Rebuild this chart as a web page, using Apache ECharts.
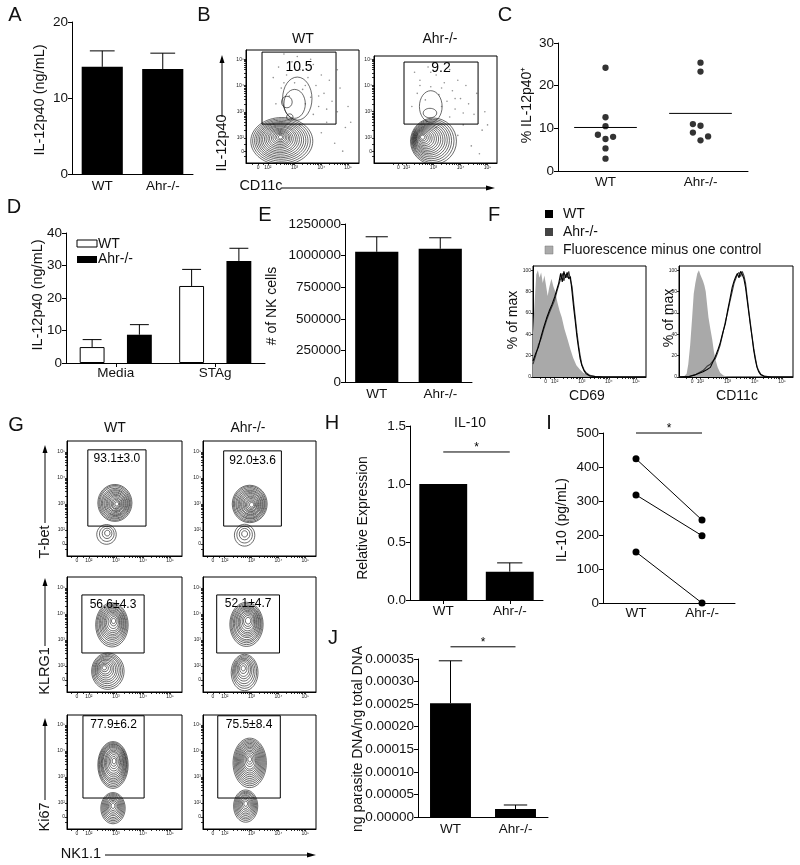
<!DOCTYPE html>
<html><head><meta charset="utf-8">
<script src="https://cdn.jsdelivr.net/npm/echarts@6/dist/echarts.min.js"></script>
<style>html,body{margin:0;padding:0;background:#fff}#c{width:800px;height:865px}</style>
</head><body><div id="c"></div>
<script>
// ---------------- DATA ----------------
const grpCats = ['WT', 'Ahr-/-'];
// A
const aMean = [14.1, 13.8];
const aErrTop = [16.2, 15.9];
// C
const cWT = [24.2, 12.6, 10.5, 8.5, 7.5, 8.0, 5.3, 2.9];
const cWTx = [1, 1, 1, 0.92, 1, 1.08, 1, 1];
const cAhr = [25.4, 23.3, 11.0, 10.6, 9.0, 7.2, 8.1];
const cAhrX = [2, 2, 1.92, 2, 1.92, 2, 2.08];
const cMeans = [10.2, 13.5];
// D
const dCats = ['Media', 'STAg'];
const dWT = [4.9, 23.7];
const dWTErrTop = [7.2, 28.8];
const dAhr = [8.7, 31.4];
const dAhrErrTop = [11.8, 35.3];
// E
const eMean = [1030000, 1054000];
const eErrTop = [1149000, 1141000];
// H
const hMean = [1.0, 0.244];
const hErrTop = [null, 0.32];
const hSig = 1.276;
// I
const iWT = [424, 318, 150];
const iAhr = [244, 198, 0];
const iSig = 500;
// J
const jMean = [0.000252, 0.0000177];
const jErrTop = [0.000346, 0.0000266];
const jSig = 0.000377;
// F histograms (x in decades above 10^2, y in % of max)
const cd69FMO = [[-0.8,42],[-0.74,70],[-0.68,96],[-0.62,100],[-0.56,93],[-0.5,98],[-0.44,88],[-0.38,95],[-0.32,86],[-0.26,76],[-0.2,84],[-0.12,92],[-0.05,85],[0.02,80],[0.1,70],[0.18,62],[0.26,56],[0.36,45],[0.48,35],[0.58,26],[0.68,18],[0.8,11],[0.93,7],[1.05,4],[1.2,2],[1.4,1],[1.7,0],[3.37,0]];
const cd69WT = [[-0.8,15],[-0.7,22],[-0.6,28],[-0.5,38],[-0.4,47],[-0.3,55],[-0.2,62],[-0.1,68],[0,75],[0.08,82],[0.15,88],[0.22,97],[0.28,89],[0.34,99],[0.4,93],[0.46,98],[0.52,92],[0.58,94],[0.64,80],[0.7,65],[0.76,52],[0.82,38],[0.88,27],[0.94,17],[1.0,11],[1.08,6],[1.16,3],[1.3,1],[1.5,0.4],[1.8,0],[3.37,0]];
const cd69Ahr = [[-0.8,12],[-0.7,20],[-0.6,30],[-0.5,36],[-0.4,45],[-0.3,53],[-0.2,60],[-0.1,66],[0,72],[0.08,80],[0.15,86],[0.22,92],[0.28,97],[0.34,90],[0.4,96],[0.46,93],[0.52,99],[0.58,91],[0.64,85],[0.7,70],[0.76,56],[0.82,42],[0.88,30],[0.94,20],[1.0,12],[1.08,7],[1.16,4],[1.3,1.5],[1.5,0.5],[1.8,0],[3.37,0]];
const cd11cFMO = [[-0.78,0],[-0.6,0.5],[-0.5,3],[-0.44,12],[-0.37,30],[-0.3,55],[-0.24,78],[-0.18,88],[-0.11,97],[-0.05,100],[0.0,96],[0.05,93],[0.1,90],[0.15,86],[0.2,80],[0.25,68],[0.3,56],[0.37,45],[0.44,35],[0.5,24],[0.56,16],[0.64,9],[0.73,4],[0.85,1.5],[1.0,0.3],[1.2,0],[3.4,0]];
const cd11cWT = [[-0.78,0],[-0.4,0.5],[-0.18,2],[0.1,5],[0.25,7],[0.37,9],[0.46,14],[0.55,19],[0.64,25],[0.73,32],[0.82,41],[0.92,50],[1.0,62],[1.08,72],[1.17,84],[1.24,90],[1.3,94],[1.36,97],[1.42,93],[1.48,99],[1.54,96],[1.6,92],[1.66,84],[1.72,72],[1.78,60],[1.84,48],[1.9,37],[1.96,25],[2.02,16],[2.08,9],[2.14,5],[2.22,2],[2.35,0.5],[2.6,0],[3.4,0]];
const cd11cAhr = [[-0.78,0],[-0.4,0.6],[-0.15,2.5],[0.1,6],[0.25,10],[0.37,12],[0.46,15],[0.55,17],[0.64,23],[0.73,30],[0.82,40],[0.92,52],[1.0,60],[1.08,70],[1.17,80],[1.24,88],[1.3,92],[1.36,96],[1.42,98],[1.48,94],[1.54,99],[1.6,95],[1.66,88],[1.72,75],[1.78,62],[1.84,50],[1.9,38],[1.96,27],[2.02,18],[2.08,10],[2.14,6],[2.22,2.5],[2.35,0.8],[2.6,0],[3.4,0]];
// Flow plots: contour levels [cx, cy, rx, ry] in decades, gates [x1,y1,x2,y2,labelY]
const b1Contours = [[0.52,-0.12,1.16,0.9],[0.51,-0.11,1.08,0.84],[0.5,-0.1,1.0,0.78],[0.49,-0.09,0.93,0.72],[0.48,-0.08,0.86,0.67],[0.47,-0.07,0.79,0.62],[0.46,-0.06,0.72,0.56],[0.45,-0.05,0.65,0.51],[0.45,-0.04,0.58,0.46],[0.44,-0.03,0.51,0.4],[0.44,-0.02,0.44,0.35],[0.44,-0.01,0.38,0.3],[0.45,0,0.32,0.25],[0.45,0.01,0.26,0.2],[0.46,0.02,0.2,0.16],[0.46,0.03,0.14,0.11],[0.47,0.03,0.08,0.07],[1.1,1.5,0.55,0.82],[1.0,1.3,0.4,0.55],[0.71,1.37,0.2,0.22],[0.82,0.8,0.12,0.12]];
const b2Contours = [[1.0,-0.12,0.85,0.88],[0.97,-0.11,0.79,0.82],[0.94,-0.1,0.73,0.76],[0.91,-0.09,0.68,0.7],[0.88,-0.08,0.63,0.64],[0.85,-0.07,0.58,0.58],[0.82,-0.06,0.53,0.53],[0.79,-0.05,0.48,0.48],[0.76,-0.04,0.43,0.43],[0.73,-0.03,0.38,0.38],[0.7,-0.02,0.33,0.33],[0.67,-0.01,0.28,0.28],[0.65,0,0.23,0.23],[0.63,0.01,0.18,0.18],[0.61,0.02,0.13,0.13],[0.6,0.03,0.08,0.08],[0.9,1.2,0.42,0.6],[0.87,0.95,0.25,0.18]];
const g11Contours = [[0.96,1.04,0.63,0.71],[0.96,1.04,0.59,0.67],[0.96,1.04,0.55,0.62],[0.97,1.03,0.51,0.57],[0.97,1.03,0.47,0.52],[0.98,1.03,0.43,0.48],[0.98,1.02,0.39,0.44],[0.99,1.02,0.35,0.4],[0.99,1.02,0.31,0.35],[1.0,1.02,0.27,0.31],[1.0,1.01,0.23,0.27],[1.01,1.01,0.19,0.22],[1.01,1.0,0.15,0.18],[1.02,1.0,0.11,0.13],[1.03,1.0,0.07,0.08],[0.65,-0.17,0.36,0.38],[0.66,-0.15,0.27,0.29],[0.67,-0.13,0.18,0.2],[0.68,-0.12,0.1,0.11]];
const g12Contours = [[0.93,1.0,0.65,0.72],[0.93,1.0,0.61,0.68],[0.93,1.0,0.57,0.63],[0.94,1.0,0.53,0.58],[0.94,0.99,0.49,0.54],[0.95,0.99,0.45,0.5],[0.95,0.99,0.41,0.45],[0.96,0.99,0.37,0.41],[0.96,0.98,0.33,0.37],[0.97,0.98,0.29,0.32],[0.97,0.98,0.25,0.28],[0.98,0.97,0.21,0.24],[0.98,0.97,0.17,0.19],[0.99,0.97,0.13,0.14],[1.0,0.97,0.08,0.09],[0.74,-0.2,0.38,0.42],[0.74,-0.18,0.29,0.32],[0.74,-0.16,0.2,0.22],[0.74,-0.15,0.11,0.12]];
const g21Contours = [[0.85,1.58,0.6,0.85],[0.85,1.59,0.56,0.79],[0.85,1.6,0.52,0.73],[0.86,1.62,0.48,0.67],[0.86,1.63,0.44,0.61],[0.87,1.64,0.4,0.56],[0.87,1.65,0.36,0.5],[0.88,1.66,0.32,0.45],[0.88,1.67,0.28,0.39],[0.89,1.68,0.24,0.33],[0.9,1.7,0.19,0.26],[0.91,1.72,0.13,0.18],[0.91,1.73,0.08,0.1],[0.7,-0.2,0.6,0.7],[0.69,-0.19,0.55,0.64],[0.68,-0.18,0.5,0.58],[0.67,-0.16,0.45,0.52],[0.65,-0.15,0.4,0.46],[0.64,-0.14,0.35,0.4],[0.62,-0.12,0.3,0.34],[0.61,-0.11,0.25,0.27],[0.6,-0.1,0.2,0.21],[0.58,-0.08,0.14,0.14],[0.57,-0.07,0.08,0.08]];
const g22Contours = [[0.81,1.6,0.62,0.85],[0.81,1.61,0.58,0.79],[0.81,1.62,0.54,0.73],[0.82,1.63,0.5,0.68],[0.82,1.64,0.46,0.63],[0.83,1.66,0.42,0.57],[0.83,1.67,0.38,0.52],[0.84,1.68,0.34,0.46],[0.84,1.69,0.3,0.41],[0.85,1.7,0.26,0.35],[0.86,1.72,0.21,0.28],[0.86,1.73,0.16,0.21],[0.87,1.74,0.1,0.13],[0.74,-0.25,0.5,0.7],[0.74,-0.23,0.45,0.63],[0.73,-0.21,0.4,0.56],[0.72,-0.19,0.35,0.49],[0.71,-0.16,0.3,0.42],[0.71,-0.14,0.25,0.35],[0.7,-0.12,0.2,0.28],[0.69,-0.1,0.14,0.19],[0.69,-0.09,0.08,0.1]];
const g31Contours = [[0.89,1.46,0.56,0.9],[0.89,1.47,0.53,0.85],[0.89,1.48,0.5,0.8],[0.9,1.5,0.47,0.75],[0.9,1.51,0.44,0.7],[0.9,1.52,0.41,0.65],[0.9,1.53,0.38,0.6],[0.91,1.54,0.34,0.54],[0.91,1.55,0.3,0.48],[0.91,1.56,0.26,0.42],[0.92,1.58,0.22,0.35],[0.92,1.59,0.17,0.27],[0.92,1.6,0.12,0.19],[0.93,1.61,0.07,0.11],[0.89,-0.2,0.45,0.6],[0.89,-0.19,0.41,0.55],[0.89,-0.18,0.37,0.5],[0.89,-0.17,0.33,0.45],[0.89,-0.16,0.29,0.4],[0.89,-0.15,0.25,0.34],[0.89,-0.14,0.21,0.29],[0.89,-0.13,0.17,0.23],[0.89,-0.12,0.12,0.17],[0.89,-0.11,0.07,0.1]];
const g32Contours = [[0.93,1.54,0.62,0.95],[0.93,1.55,0.58,0.89],[0.93,1.56,0.54,0.83],[0.93,1.57,0.5,0.77],[0.93,1.58,0.46,0.71],[0.93,1.59,0.42,0.65],[0.93,1.6,0.38,0.59],[0.93,1.61,0.34,0.53],[0.93,1.62,0.3,0.47],[0.93,1.63,0.26,0.4],[0.93,1.64,0.22,0.34],[0.93,1.66,0.17,0.26],[0.93,1.67,0.12,0.18],[0.93,1.68,0.07,0.1],[0.78,-0.12,0.45,0.62],[0.78,-0.11,0.41,0.56],[0.78,-0.1,0.37,0.51],[0.78,-0.09,0.33,0.46],[0.78,-0.08,0.29,0.4],[0.78,-0.07,0.25,0.35],[0.78,-0.06,0.21,0.29],[0.78,-0.05,0.17,0.23],[0.78,-0.04,0.12,0.17],[0.78,-0.03,0.07,0.1]];
const b1Dots = [[0.9,2.9],[1.2,2.6],[0.7,2.4],[1.5,2.3],[1.0,2.1],[1.8,2.0],[0.5,1.9],[1.3,1.85],[2.1,1.7],[0.8,1.6],[1.6,1.55],[2.4,1.4],[1.9,1.2],[2.6,1.0],[2.2,0.6],[2.9,0.4],[1.1,3.1],[0.4,2.7],[1.7,2.8],[2.0,2.4],[0.3,1.3],[2.7,1.9],[3.0,1.2],[0.6,3.2],[1.4,1.3],[2.3,2.2],[1.2,0.5],[1.7,0.9],[2.0,0.2],[2.5,-0.2],[3.1,0.6],[2.8,-0.5],[1.0,2.7],[1.4,2.0],[0.6,2.1],[1.9,1.6],[2.2,1.1],[0.2,2.3],[1.6,3.0],[2.6,2.6]];
const b2Dots = [[0.8,2.7],[1.1,2.4],[0.5,2.2],[1.4,2.1],[0.9,1.95],[1.7,1.8],[0.4,1.7],[1.2,1.65],[2.0,1.5],[0.7,1.45],[1.5,1.4],[2.3,1.3],[1.8,1.1],[2.5,0.9],[2.1,0.5],[2.8,0.3],[1.0,2.85],[0.3,2.5],[1.6,2.6],[1.9,2.2],[0.2,1.2],[2.6,1.7],[2.9,1.0],[1.3,1.2],[2.2,2.0],[1.1,0.4],[1.6,0.8],[1.9,0.1],[2.4,-0.3],[3.0,0.5],[2.7,-0.6],[0.9,2.5],[1.3,1.9],[0.5,2.0],[1.8,1.5],[2.1,0.95]];
const b1Gate = [[-0.22,3.27,2.55,0.53,2.7]]; const b1Label = ['10.5'];
const b2Gate = [[-0.09,2.89,2.65,0.53,2.66]]; const b2Label = ['9.2'];
const g11Gate = [[-0.04,3.08,2.11,0.15,2.73]]; const g11Label = ['93.1\u00B13.0'];
const g12Gate = [[-0.04,3.04,2.11,0.15,2.65]]; const g12Label = ['92.0\u00B13.6'];
const g21Gate = [[-0.26,2.73,2.04,0.5,2.35]]; const g21Label = ['56.6\u00B14.3'];
const g22Gate = [[-0.3,2.73,2.04,0.5,2.38]]; const g22Label = ['52.1\u00B14.7'];
const g31Gate = [[-0.22,3.35,2.04,0.19,3.0]]; const g31Label = ['77.9\u00B16.2'];
const g32Gate = [[-0.26,3.35,2.07,0.19,3.0]]; const g32Label = ['75.5\u00B18.4'];
const flowTickText = ['0', '10\u00B2', '10\u00B3', '10\u2074', '10\u2075'];
const pctTicks = [0, 20, 40, 60, 80, 100];

// ---------------- LAYOUT / STYLE ----------------
const FONT = '"Liberation Sans", Arial, Helvetica, sans-serif';
const grids = [
  [72,22,121,152],   //0 A
  [246,50,113,113],  //1 B1
  [374,56,123,107],  //2 B2
  [558,43,190,128],  //3 C
  [66,233,199,130],  //4 D
  [345,224,127,158], //5 E
  [533,266,113,111], //6 F1
  [679,266,114,111], //7 F2
  [67,441,115,115],[203,441,113,115], //8,9
  [67,577,115,115],[203,577,113,115], //10,11
  [67,715,115,114],[203,715,113,114], //12,13
  [410,426,133,174], //14 H
  [603,433,132,170], //15 I
  [418,659,130,158]  //16 J
];
const framed = [1,2,6,7,8,9,10,11,12,13];
const gridOpt = grids.map((g,i)=>({left:g[0],top:g[1],width:g[2],height:g[3],show:framed.includes(i),borderColor:'#000',borderWidth:1,backgroundColor:'rgba(0,0,0,0)',containLabel:false}));

const LBL = {fontSize:13.5, color:'#111', fontFamily:FONT};
function valY(g,min,max,interval,fmt){
  return {type:'value',gridIndex:g,min,max,interval,splitLine:{show:false},
    axisLine:{show:true,onZero:false,lineStyle:{color:'#000',width:1}},
    axisTick:{show:true,length:4,lineStyle:{color:'#000'}},
    axisLabel:Object.assign({margin:4,formatter:fmt},LBL)};
}
function catX(g,cats,margin,ticks){
  return {type:'category',gridIndex:g,data:cats,
    axisLine:{show:true,onZero:false,lineStyle:{color:'#000',width:1}},
    axisTick:{show:!!ticks,alignWithLabel:true,length:4,lineStyle:{color:'#000'}},
    axisLabel:Object.assign({margin:margin,interval:0},LBL)};
}
function flowAxis(g,min,max,zeroPos){
  const vals=[zeroPos,0,1,2,3];
  const ticks=[zeroPos-0.2,zeroPos,zeroPos/2];
  for(let d=0;d<3;d++) for(let k=1;k<10;k++) ticks.push(d+Math.log10(k));
  ticks.push(3);
  return {type:'value',gridIndex:g,min,max,splitLine:{show:false},
    axisLine:{show:true,onZero:false,lineStyle:{color:'#000',width:1}},
    axisTick:{show:true,length:2,customValues:ticks,lineStyle:{color:'#000',width:0.8}},
    axisLabel:{show:true,customValues:vals,fontSize:5,color:'#222',margin:2,fontFamily:FONT,
      formatter:v=>{const i=vals.findIndex(x=>Math.abs(x-v)<1e-6);return i<0?'':flowTickText[i];}}};
}
function pctAxis(g){
  return {type:'value',gridIndex:g,min:0,max:104,splitLine:{show:false},
    axisLine:{show:true,onZero:false,lineStyle:{color:'#000',width:1}},
    axisTick:{show:true,length:2,customValues:pctTicks,lineStyle:{color:'#000',width:0.8}},
    axisLabel:{show:true,customValues:pctTicks,fontSize:5,color:'#222',margin:2,fontFamily:FONT}};
}

const xAxes = [], yAxes = [];
xAxes[0]=catX(0,grpCats,5,false); yAxes[0]=valY(0,0,20,10);
xAxes[1]=flowAxis(1,-0.82,3.41,-0.37); yAxes[1]=flowAxis(1,-0.95,3.35,-0.5);
xAxes[2]=flowAxis(2,-1.2,3.35,-0.3); yAxes[2]=flowAxis(2,-0.95,3.12,-0.5);
xAxes[3]={type:'value',gridIndex:3,min:0.5,max:2.5,splitLine:{show:false},
  axisLine:{show:true,onZero:false,lineStyle:{color:'#000'}},axisTick:{show:false},
  axisLabel:Object.assign({customValues:[1,2],margin:4,formatter:v=>grpCats[Math.round(v)-1]||''},LBL)};
yAxes[3]=valY(3,0,30,10);
xAxes[4]=catX(4,dCats,3,true); yAxes[4]=valY(4,0,40,10);
xAxes[5]=catX(5,grpCats,5,false); yAxes[5]=valY(5,0,1250000,250000,v=>String(v));
xAxes[6]=flowAxis(6,-0.8,3.37,-0.33); yAxes[6]=pctAxis(6);
xAxes[7]=flowAxis(7,-0.78,3.4,-0.3); yAxes[7]=pctAxis(7);
[8,9,10,11,12,13].forEach(g=>{
  const right = (g%2===1);
  xAxes[g]=flowAxis(g,-0.81,right?3.4:3.44,-0.44);
  yAxes[g]=flowAxis(g,-1.0,g>=12?3.38:3.42,-0.54);
});
xAxes[14]=catX(14,grpCats,4,true); yAxes[14]=valY(14,0,1.5,0.5,v=>v.toFixed(1));
xAxes[15]=catX(15,grpCats,3,false); yAxes[15]=valY(15,0,500,100);
xAxes[16]=catX(16,grpCats,5,false); yAxes[16]=valY(16,0,0.00035,0.00005,v=>v.toFixed(5));

// ---------------- SERIES HELPERS ----------------
function errSeries(g,means,tops,offset,capFrac){
  const data=[];
  means.forEach((m,i)=>{ if(tops[i]!=null) data.push([i,m,tops[i]]); });
  return {type:'custom',xAxisIndex:g,yAxisIndex:g,data,clip:false,z:5,
    renderItem:(p,api)=>{
      const band=api.size([1,0])[0];
      const base=api.coord([api.value(0),api.value(1)]);
      const top=api.coord([api.value(0),api.value(2)]);
      const x=base[0]+offset*band, cw=capFrac*band/2;
      return {type:'group',children:[
        {type:'line',shape:{x1:x,y1:base[1],x2:x,y2:top[1]},style:{stroke:'#000',lineWidth:1}},
        {type:'line',shape:{x1:x-cw,y1:top[1],x2:x+cw,y2:top[1]},style:{stroke:'#000',lineWidth:1}}
      ]};
    }};
}
function barSeries(g,vals,width,fill,extra){
  return Object.assign({type:'bar',xAxisIndex:g,yAxisIndex:g,data:vals,barWidth:width,
    itemStyle:{color:fill,borderColor:'#000',borderWidth:fill==='#000'?0:1},silent:true},extra||{});
}
function sigSeries(g,level,starFs){
  return {type:'custom',xAxisIndex:g,yAxisIndex:g,data:[[0,level]],clip:false,z:6,
    renderItem:(p,api)=>{
      const a=api.coord([0,api.value(1)]), b=api.coord([1,api.value(1)]);
      return {type:'group',children:[
        {type:'line',shape:{x1:a[0],y1:a[1],x2:b[0],y2:b[1]},style:{stroke:'#000',lineWidth:1}},
        {type:'text',x:(a[0]+b[0])/2,y:a[1]-4,style:{text:'*',fontSize:starFs,fontFamily:FONT,fill:'#000',align:'center',verticalAlign:'middle',textAlign:'center',textVerticalAlign:'middle'}}
      ]};
    }};
}
function contourSeries(g,levels){
  return {type:'custom',xAxisIndex:g,yAxisIndex:g,data:levels,clip:true,z:3,
    renderItem:(p,api)=>{
      const c=api.coord([api.value(0),api.value(1)]);
      const s=api.size([api.value(2),api.value(3)]);
      return {type:'ellipse',shape:{cx:c[0],cy:c[1],rx:s[0],ry:s[1]},style:{fill:'rgba(0,0,0,0)',stroke:'#1a1a1a',lineWidth:0.65}};
    }};
}
function gateSeries(g,boxes,labels,fs){
  return {type:'custom',xAxisIndex:g,yAxisIndex:g,data:boxes,clip:false,z:4,
    renderItem:(p,api)=>{
      const a=api.coord([api.value(0),api.value(1)]), b=api.coord([api.value(2),api.value(3)]);
      const ly=api.coord([api.value(0),api.value(4)])[1];
      return {type:'group',children:[
        {type:'rect',shape:{x:Math.min(a[0],b[0]),y:Math.min(a[1],b[1]),width:Math.abs(b[0]-a[0]),height:Math.abs(b[1]-a[1])},style:{fill:'rgba(0,0,0,0)',stroke:'#000',lineWidth:1}},
        {type:'text',x:(a[0]+b[0])/2,y:ly,style:{text:labels[p.dataIndex],fontSize:fs,fontFamily:FONT,fill:'#000',align:'center',verticalAlign:'middle',textAlign:'center',textVerticalAlign:'middle'}}
      ]};
    }};
}
function dotSeries(g,pts){
  return {type:'scatter',xAxisIndex:g,yAxisIndex:g,data:pts,symbolSize:1.6,itemStyle:{color:'#777'},silent:true,z:2};
}
function histLine(g,pts,color,area){
  const s={type:'line',xAxisIndex:g,yAxisIndex:g,data:pts,showSymbol:false,symbol:'none',
    lineStyle:{color:color,width:area?0:1.1},silent:true,z:area?2:4};
  if(area){ s.areaStyle={color:color,opacity:1}; }
  return s;
}

const series = [];
// A
series.push(barSeries(0,aMean,'68%','#000'));
series.push(errSeries(0,aMean,aErrTop,0,0.41));
// B
series.push(dotSeries(1,b1Dots),contourSeries(1,b1Contours),gateSeries(1,b1Gate,b1Label,14));
series.push(dotSeries(2,b2Dots),contourSeries(2,b2Contours),gateSeries(2,b2Gate,b2Label,14));
// C
series.push({type:'scatter',xAxisIndex:3,yAxisIndex:3,data:cWT.map((v,i)=>[cWTx[i],v]),symbolSize:6.3,itemStyle:{color:'#000'},z:4});
series.push({type:'scatter',xAxisIndex:3,yAxisIndex:3,data:cAhr.map((v,i)=>[cAhrX[i],v]),symbolSize:6.3,itemStyle:{color:'#000'},z:4});
series.push({type:'custom',xAxisIndex:3,yAxisIndex:3,data:cMeans.map((m,i)=>[i+1,m]),z:5,
  renderItem:(p,api)=>{const c=api.coord([api.value(0),api.value(1)]);const hw=0.33*api.size([1,0])[0];
    return {type:'line',shape:{x1:c[0]-hw,y1:c[1],x2:c[0]+hw,y2:c[1]},style:{stroke:'#000',lineWidth:1}};}});
// D
series.push(barSeries(4,dWT,'25%','#fff',{barGap:'90%'}));
series.push(barSeries(4,dAhr,'25%','#000',{barGap:'90%'}));
series.push(errSeries(4,dWT,dWTErrTop,-0.2375,0.19));
series.push(errSeries(4,dAhr,dAhrErrTop,0.2375,0.19));
// E
series.push(barSeries(5,eMean,'68%','#000'));
series.push(errSeries(5,eMean,eErrTop,0,0.35));
// F
series.push(histLine(6,cd69FMO,'#a9a9a9',true),histLine(6,cd69Ahr,'#3a3a3a',false),histLine(6,cd69WT,'#000',false));
series.push(histLine(7,cd11cFMO,'#a9a9a9',true),histLine(7,cd11cAhr,'#3a3a3a',false),histLine(7,cd11cWT,'#000',false));
// G
[[8,g11Contours,g11Gate,g11Label],[9,g12Contours,g12Gate,g12Label],[10,g21Contours,g21Gate,g21Label],
 [11,g22Contours,g22Gate,g22Label],[12,g31Contours,g31Gate,g31Label],[13,g32Contours,g32Gate,g32Label]].forEach(r=>{
  series.push(contourSeries(r[0],r[1]),gateSeries(r[0],r[2],r[3],12));
});
// H
series.push(barSeries(14,hMean,'72%','#000'));
series.push(errSeries(14,hMean,hErrTop,0,0.38));
series.push(sigSeries(14,hSig,12));
// I
iWT.forEach((w,i)=>{
  series.push({type:'line',xAxisIndex:15,yAxisIndex:15,data:[w,iAhr[i]],symbol:'circle',symbolSize:7,
    lineStyle:{color:'#000',width:1},itemStyle:{color:'#000'},clip:false,z:4});
});
series.push(sigSeries(15,iSig,12));
// J
series.push(barSeries(16,jMean,'63%','#000'));
series.push(errSeries(16,jMean,jErrTop,0,0.36));
series.push(sigSeries(16,jSig,12));

// ---------------- GRAPHIC TEXT ----------------
function T(text,x,y,size,opt){
  opt=opt||{};
  return {type:'text',x:x,y:y,rotation:opt.rot||0,z:10,
    style:{text:text,fontSize:size,fontFamily:FONT,fill:'#111',
      align:opt.align||'center',textAlign:opt.align||'center',verticalAlign:'middle',textVerticalAlign:'middle'}};
}
const R=Math.PI/2;
function arrowUp(x,y1,y2){return [{type:'line',shape:{x1:x,y1:y1,x2:x,y2:y2+6},style:{stroke:'#000',lineWidth:1}},
  {type:'polygon',shape:{points:[[x,y2],[x-2.5,y2+8],[x+2.5,y2+8]]},style:{fill:'#000'}}];}
function arrowRight(y,x1,x2){return [{type:'line',shape:{x1:x1,y1:y,x2:x2-6,y2:y},style:{stroke:'#000',lineWidth:1}},
  {type:'polygon',shape:{points:[[x2,y],[x2-9,y-2.5],[x2-9,y+2.5]]},style:{fill:'#000'}}];}
const graphics = [
  T('A',15,15,20),T('B',204,15,20),T('C',505,15,20),T('D',14,207,20),T('E',265,215,20),T('F',494,215,20),
  T('G',16,425,20),T('H',332,423,20),T('I',549,423,20),T('J',333,638,20),
  T('IL-12p40 (ng/mL)',40,100,14.5,{rot:R}),
  T('WT',303,39,14),T('Ahr-/-',440,39,14),
  T('IL-12p40',222,143,14.5,{rot:R}),
  T('CD11c',261,186,14.5),
  T('% IL-12p40\u207A',527,105,14,{rot:R}),
  T('IL-12p40 (ng/mL)',38,295,14.5,{rot:R}),
  {type:'rect',shape:{x:77,y:240,width:20,height:7},style:{fill:'#fff',stroke:'#000',lineWidth:1}},
  {type:'rect',shape:{x:77,y:256,width:20,height:7},style:{fill:'#000'}},
  T('WT',98,244,14,{align:'left'}),T('Ahr-/-',98,259,14,{align:'left'}),
  T('# of NK cells',272,306,14,{rot:R}),
  {type:'rect',shape:{x:545,y:210,width:8,height:8},style:{fill:'#000'}},
  {type:'rect',shape:{x:545,y:228,width:8,height:8},style:{fill:'#444'}},
  {type:'rect',shape:{x:545,y:246,width:8,height:8},style:{fill:'#aaa',stroke:'#777',lineWidth:0.5}},
  T('WT',563,214,14,{align:'left'}),T('Ahr-/-',563,232,14,{align:'left'}),T('Fluorescence minus one control',563,250,14,{align:'left'}),
  T('% of max',513,320,14,{rot:R}),T('% of max',669,318,14,{rot:R}),
  T('CD69',587,396,14),T('CD11c',737,396,14),
  T('WT',115,428,14),T('Ahr-/-',248,428,14),
  T('T-bet',45,542,14.5,{rot:R}),T('KLRG1',45,671,14.5,{rot:R}),T('Ki67',45,817,14.5,{rot:R}),
  T('NK1.1',81,854,14.5),
  T('IL-10',470,423,14),
  T('Relative Expression',363,518,14,{rot:R}),
  T('IL-10 (pg/mL)',562,520,14,{rot:R}),
  T('ng parasite DNA/ng total DNA',358,739,14,{rot:R})
].concat(arrowUp(222,117,55),arrowRight(188,282,495),
  arrowUp(45,523,445),arrowUp(45,646,578),arrowUp(45,800,718),arrowRight(855,105,316));

const chart = echarts.init(document.getElementById('c'),null,{renderer:'canvas',width:800,height:865});
chart.setOption({
  animation:false,
  backgroundColor:'#fff',
  textStyle:{fontFamily:FONT},
  grid:gridOpt,
  xAxis:xAxes,
  yAxis:yAxes,
  series:series,
  graphic:graphics
});
</script></body></html>
